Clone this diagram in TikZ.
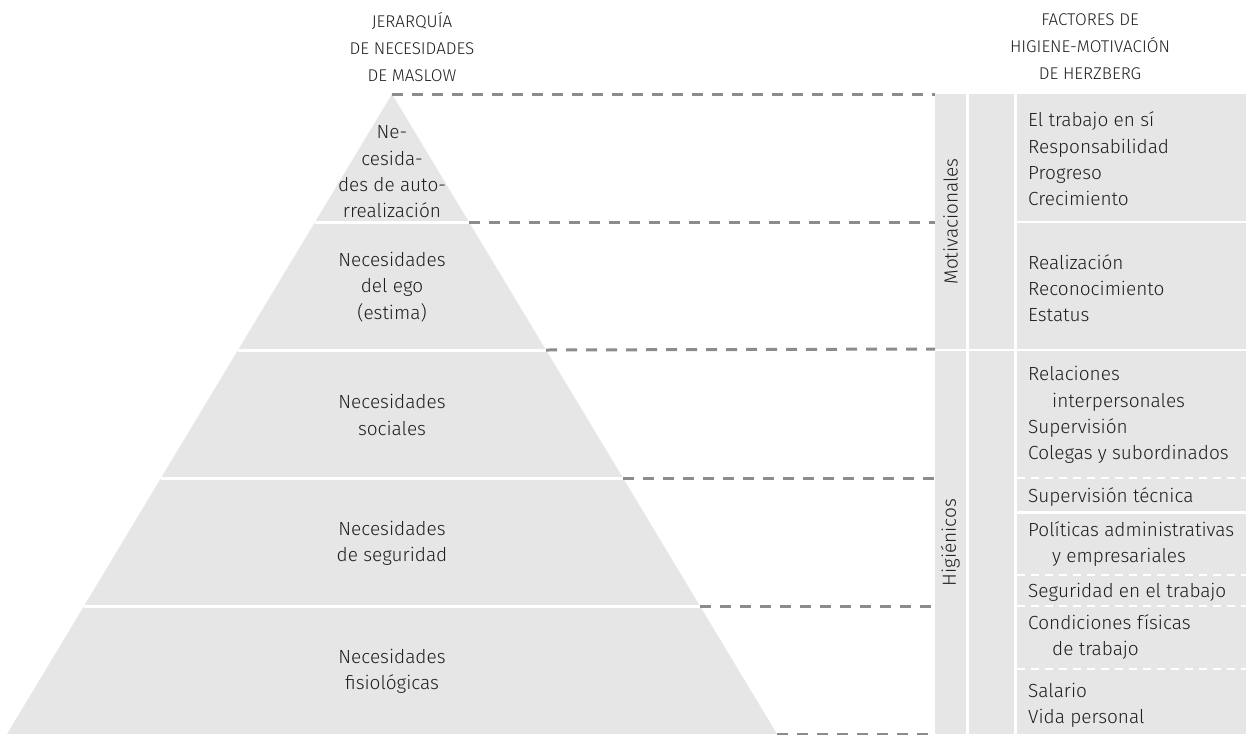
\documentclass[tikz,border=0pt]{standalone}
\usepackage{fontspec}
\setmainfont{Fira Sans Light}
\usetikzlibrary{positioning}

\definecolor{panel}{HTML}{E6E6E6}
\definecolor{ink}{HTML}{1E1E1E}
\definecolor{dashgray}{HTML}{8C8C8C}

\begin{document}
\begin{tikzpicture}[
    x=1pt, y=-1pt,
    font=\fontsize{19}{26.3}\selectfont, text=ink,
    level/.style={align=center, inner sep=0pt},
    heading/.style={align=center, inner sep=0pt, font=\fontsize{17}{27}\selectfont},
    colbox/.style={fill=panel, anchor=north west, inner sep=0pt, outer sep=0pt},
    item/.style={anchor=west, align=left, inner sep=0pt},
    sidelabel/.style={rotate=90, inner sep=0pt},
    guide/.style={draw=dashgray, line width=3pt, dash pattern=on 11pt off 9pt},
    cut/.style={draw=white, line width=3pt},
    softcut/.style={draw=white, line width=2pt, dash pattern=on 8pt off 6pt}
  ]
  \useasboundingbox (0,0) rectangle (1246,734);

  % Pyramid
  \coordinate (apex) at (392,94);
  \coordinate (baseL) at (7,734);
  \coordinate (baseR) at (777,734);
  \fill[panel] (apex) -- (baseR) -- (baseL) -- cycle;

  % Level edges on the right flank
  \coordinate (e1) at (469,222);
  \coordinate (e2) at (546,350);
  \coordinate (e3) at (623,478);
  \coordinate (e4) at (700,606);
  \draw[cut] (315,222) -- (e1);
  \draw[cut] (238,350) -- (e2);
  \draw[cut] (161,478) -- (e3);
  \draw[cut] (84,606) -- (e4);

  % Level labels
  \node[level] (self) at (392,172) {Ne-\\cesida-\\des de auto-\\rrealización};
  \node[level] (ego) at (392,287) {Necesidades\\del ego\\(estima)};
  \node[level] (social) at (392,415) {Necesidades\\sociales};
  \node[level] (safety) at (392,543) {Necesidades\\de seguridad};
  \node[level] (physio) at (392,671) {Necesidades\\fisiológicas};

  % Headings
  \node[heading] (maslow) at (412,47) {JERARQUÍA\\DE NECESIDADES\\DE MASLOW};
  \node[heading] (herzberg) at (1090,47) {FACTORES DE\\HIGIENE-MOTIVACIÓN\\DE HERZBERG};

  % Herzberg columns
  \node[colbox, minimum width=31pt, minimum height=255pt] (motA) at (935,94) {};
  \node[colbox, minimum width=31pt, minimum height=383pt] (hygA) at (935,351) {};
  \node[colbox, minimum width=45pt, minimum height=255pt] (motB) at (969,94) {};
  \node[colbox, minimum width=45pt, minimum height=383pt] (hygB) at (969,351) {};
  \node[colbox, minimum width=229pt, minimum height=127pt] (motC1) at (1017,94) {};
  \node[colbox, minimum width=229pt, minimum height=126pt] (motC2) at (1017,223) {};
  \node[colbox, minimum width=229pt, minimum height=383pt] (hygC) at (1017,351) {};

  \draw[softcut] (1017,478) -- (1246,478);
  \draw[cut] (1017,512) -- (1246,512);
  \draw[softcut] (1017,575) -- (1246,575);
  \draw[softcut] (1017,606) -- (1246,606);
  \draw[softcut] (1017,669) -- (1246,669);

  \node[sidelabel] (motlbl) at (motA.center) {Motivacionales};
  \node[sidelabel] (hyglbl) at (hygA.center) {Higiénicos};

  % Factor lists
  \node[item] (f1) at (1028,159) {El trabajo en sí\\Responsabilidad\\Progreso\\Crecimiento};
  \node[item] (f2) at (1028,288) {Realización\\Reconocimiento\\Estatus};
  \node[item] (f3) at (1028,415) {Relaciones\\\hspace*{24pt}interpersonales\\Supervisión\\Colegas y subordinados};
  \node[item] (f4) at (1028,497) {Supervisión técnica};
  \node[item] (f5) at (1028,544) {Políticas administrativas\\\hspace*{24pt}y empresariales};
  \node[item] (f6) at (1028,592) {Seguridad en el trabajo};
  \node[item] (f7) at (1028,637) {Condiciones físicas\\\hspace*{24pt}de trabajo};
  \node[item] (f8) at (1028,705) {Salario\\Vida personal};

  % Dashed guides from pyramid to Herzberg columns
  \draw[guide] (apex) -- (motA.north west);
  \draw[guide] (e1) -- (e1 -| motA.west);
  \draw[guide] (e2) -- (motA.south west);
  \draw[guide] (e3) -- (e3 -| hygA.west);
  \draw[guide] (e4) -- (e4 -| hygA.west);
  \draw[guide] (baseR) -- (hygA.south west);
\end{tikzpicture}
\end{document}
